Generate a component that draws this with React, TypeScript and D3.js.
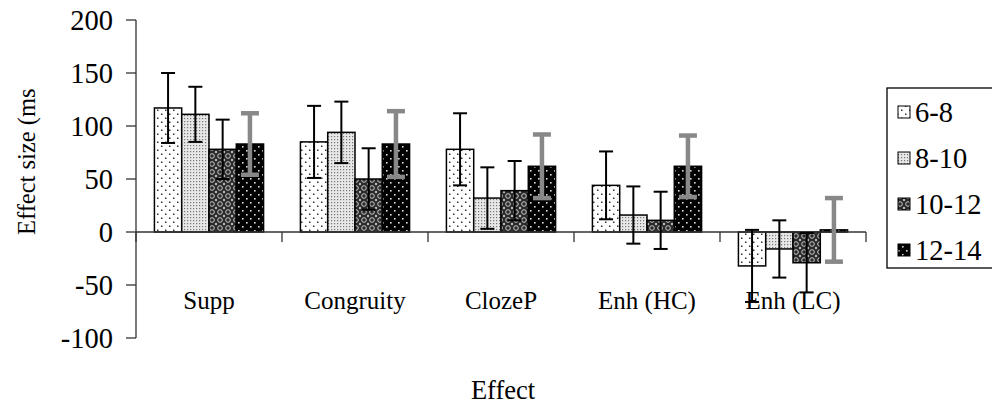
import React from 'react';
import * as d3 from 'd3';

// Chart data
const categories = ['Supp', 'Congruity', 'ClozeP', 'Enh (HC)', 'Enh (LC)'];
const seriesNames = ['6-8', '8-10', '10-12', '12-14'];
const means = [
  [117, 85, 78, 44, -32],
  [111, 94, 32, 16, -16],
  [78, 50, 39, 11, -29],
  [83, 83, 62, 62, 2],
];
const errors = [
  [33, 34, 34, 32, 34],
  [26, 29, 29, 27, 27],
  [28, 29, 28, 27, 28],
  [29, 31, 30, 29, 30],
];
const yTicks = [-100, -50, 0, 50, 100, 150, 200];

const width = 992;
const height = 404;
const font = '"Liberation Serif", "Times New Roman", serif';
const patternIds = ['pat68', 'pat810', 'pat1012', 'pat1214'];

const App = () => {
  const x0 = d3.scaleBand<string>().domain(categories).range([136, 866]).padding(0);
  const x1 = d3
    .scaleBand<string>()
    .domain(seriesNames)
    .range([0, x0.bandwidth()])
    .paddingInner(0)
    .paddingOuter(0.675);
  const y = d3.scaleLinear().domain([-100, 200]).range([338, 20]);

  return (
    <svg
      width={width}
      height={height}
      style={{ position: 'absolute', left: 0, top: 0, background: 'white' }}
      fontFamily={font}
    >
      <defs>
        {/* 6-8: white with sparse dots */}
        <pattern id="pat68" width="8" height="8" patternUnits="userSpaceOnUse">
          <rect width="8" height="8" fill="white" />
          <rect x="1" y="1.5" width="1.5" height="1.5" fill="#333" />
          <rect x="5" y="5.5" width="1.5" height="1.5" fill="#333" />
        </pattern>
        {/* 8-10: light dense dots */}
        <pattern id="pat810" width="3" height="3" patternUnits="userSpaceOnUse">
          <rect width="3" height="3" fill="#e8e8e8" />
          <rect x="1" y="1" width="1.2" height="1.2" fill="#777" />
        </pattern>
        {/* 10-12: dark lattice */}
        <pattern id="pat1012" width="8" height="8" patternUnits="userSpaceOnUse">
          <rect width="8" height="8" fill="#2a2a2a" />
          <circle cx="4" cy="4" r="2.3" fill="none" stroke="#c8c8c8" strokeWidth="1" />
          <circle cx="0" cy="0" r="1.2" fill="#bbb" />
          <circle cx="8" cy="0" r="1.2" fill="#bbb" />
          <circle cx="0" cy="8" r="1.2" fill="#bbb" />
          <circle cx="8" cy="8" r="1.2" fill="#bbb" />
        </pattern>
        {/* 12-14: black with white dots */}
        <pattern id="pat1214" width="8" height="8" patternUnits="userSpaceOnUse">
          <rect width="8" height="8" fill="black" />
          <rect x="2" y="2" width="1.6" height="1.6" fill="#ddd" />
          <rect x="6" y="6" width="1.6" height="1.6" fill="#ddd" />
        </pattern>
        <clipPath id="ylabClip">
          <rect x="0" y="88" width="60" height="300" />
        </clipPath>
      </defs>

      {/* y axis */}
      <line x1={136} x2={136} y1={y(200)} y2={y(-100)} stroke="#333" strokeWidth={1.3} />
      {yTicks.map((t) => (
        <g key={t}>
          <line x1={126} x2={136} y1={y(t)} y2={y(t)} stroke="#333" strokeWidth={1.3} />
          <text x={113} y={y(t)} dy="0.35em" textAnchor="end" fontSize={28.5}>
            {t}
          </text>
        </g>
      ))}

      {/* bars */}
      {seriesNames.map((s, si) =>
        categories.map((c, ci) => {
          const v = means[si][ci];
          const bx = (x0(c) ?? 0) + (x1(s) ?? 0);
          const top = y(Math.max(v, 0));
          const h = Math.max(Math.abs(y(v) - y(0)), 1.5);
          return (
            <rect
              key={`${s}-${c}`}
              x={bx}
              y={top}
              width={x1.bandwidth()}
              height={h}
              fill={`url(#${patternIds[si]})`}
              stroke="black"
              strokeWidth={1.5}
            />
          );
        })
      )}

      {/* x axis at zero */}
      <line x1={136} x2={866} y1={y(0)} y2={y(0)} stroke="#333" strokeWidth={1.3} />
      {[...categories.map((c) => x0(c) ?? 0), 866].map((tx, i) => (
        <line key={i} x1={tx} x2={tx} y1={y(0)} y2={y(0) + 10} stroke="#333" strokeWidth={1.3} />
      ))}

      {/* error bars */}
      {seriesNames.map((s, si) =>
        categories.map((c, ci) => {
          const v = means[si][ci];
          const e = errors[si][ci];
          const cx = (x0(c) ?? 0) + (x1(s) ?? 0) + x1.bandwidth() / 2;
          const gray = si === 3;
          const color = gray ? '#888' : 'black';
          const sw = gray ? 4.5 : 2;
          const capW = gray ? 9 : 7;
          return (
            <g key={`e-${s}-${c}`} stroke={color} strokeWidth={sw}>
              <line x1={cx} x2={cx} y1={y(v + e)} y2={y(v - e)} />
              <line x1={cx - capW} x2={cx + capW} y1={y(v + e)} y2={y(v + e)} />
              <line x1={cx - capW} x2={cx + capW} y1={y(v - e)} y2={y(v - e)} />
            </g>
          );
        })
      )}

      {/* category labels */}
      {categories.map((c) => (
        <text key={c} x={(x0(c) ?? 0) + x0.bandwidth() / 2} y={309} textAnchor="middle" fontSize={25}>
          {c}
        </text>
      ))}

      {/* axis titles */}
      <text x={503} y={399} textAnchor="middle" fontSize={26.5}>
        Effect
      </text>
      <g clipPath="url(#ylabClip)">
        <text transform="translate(35,235) rotate(-90)" textAnchor="start" fontSize={24.5}>
          Effect size (ms)
        </text>
      </g>

      {/* legend */}
      <rect x={887} y={88} width={130} height={180} fill="white" stroke="black" strokeWidth={1.3} />
      {seriesNames.map((s, i) => {
        const ly = 112 + i * 46;
        return (
          <g key={s}>
            <rect x={898} y={ly - 6} width={12} height={12} fill={`url(#${patternIds[i]})`} stroke="black" strokeWidth={1} />
            <text x={915} y={ly} dy="0.35em" fontSize={28.5}>
              {s}
            </text>
          </g>
        );
      })}
    </svg>
  );
};

export default App;
